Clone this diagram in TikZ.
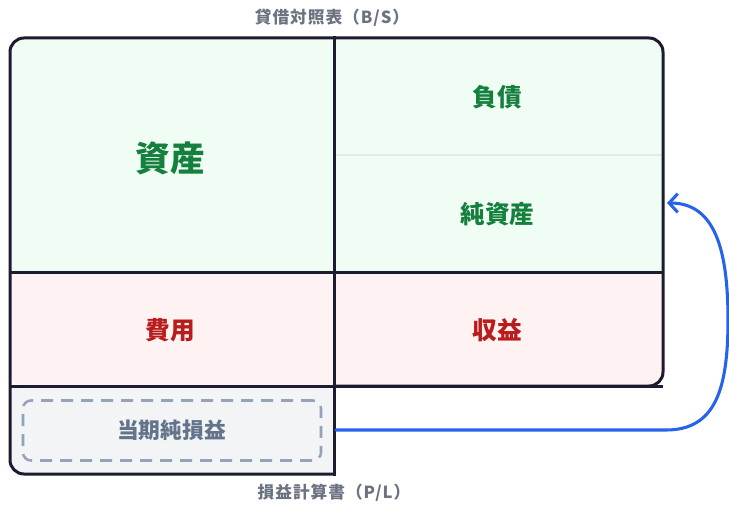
\documentclass[tikz,border=0pt]{standalone}
\usepackage{fontspec}
\setmainfont{Noto Sans CJK JP}
\newfontfamily\titlefont[LetterSpace=6]{Noto Sans CJK JP}
\usetikzlibrary{arrows.meta}
\definecolor{edge}{HTML}{1C1C2E}
\definecolor{gfill}{HTML}{F0FDF4}
\definecolor{gtext}{HTML}{15803D}
\definecolor{rfill}{HTML}{FEF2F2}
\definecolor{rtext}{HTML}{B91C1C}
\definecolor{pfill}{HTML}{F3F4F6}
\definecolor{dashc}{HTML}{94A3B8}
\definecolor{ptext}{HTML}{64748B}
\definecolor{ttext}{HTML}{6B7280}
\definecolor{sep}{HTML}{E2E8F0}
\definecolor{arrowc}{HTML}{2563EB}
\begin{document}
\begin{tikzpicture}[x=0.75pt,y=-0.75pt,
  biglabel/.style={font=\fontsize{26}{30}\selectfont\bfseries,text=gtext},
  glabel/.style={font=\fontsize{18.5}{22}\selectfont\bfseries,text=gtext},
  rlabel/.style={font=\fontsize{18.5}{22}\selectfont\bfseries,text=rtext},
  ttl/.style={font=\titlefont\fontsize{12.5}{15}\selectfont\bfseries,text=ttext},
  border/.style={draw=edge,line width=2.25pt},
  flow/.style={draw=arrowc,line width=2.3pt,line cap=round,-{Straight Barb[length=6.5pt,width=14pt,line width=2.3pt]}}]
\useasboundingbox (0,0) rectangle (729,506);
% fills
\begin{scope}
\clip[rounded corners=10.5pt] (10,38) rectangle (663,386);
\fill[gfill] (10,38) rectangle (663,273);
\fill[rfill] (10,273) rectangle (663,386);
\end{scope}
\begin{scope}
\clip[rounded corners=10.5pt] (10,360) rectangle (370,474);
\fill[pfill] (10,386) rectangle (334,474);
\end{scope}
% separator between liabilities and equity
\draw[sep,line width=1pt] (335,155) -- (662,155);
% dividers
\draw[border] (10,273) -- (663,273);
\draw[border] (10,386) -- (663,386);
% outer border
\draw[border,rounded corners=10.5pt] (334,386) -- (663,386) -- (663,38) -- (10,38) -- (10,474) -- (334,474);
\draw[border,line cap=rect] (334,38) -- (334,474);
% dashed net income box
\node[draw=dashc,line width=1.9pt,dash pattern=on 9pt off 6pt,rounded corners=6pt,minimum width=223.5pt,minimum height=45pt,inner sep=0pt,fill=pfill] (ni) at (172,430.5) {};
\node[font=\fontsize{16.3}{20}\selectfont\bfseries,text=ptext] (nitext) at (171.5,430) {当期純損益};
% labels
\node[biglabel] (asset) at (170.5,158) {資産};
\node[glabel] (liab) at (497.5,97) {負債};
\node[glabel] (eq) at (497.5,214) {純資産};
\node[rlabel] (exp) at (170.5,330) {費用};
\node[rlabel] (rev) at (497.5,330) {収益};
\node[ttl] (bs) at (332,18) {貸借対照表（B/S）};
\node[ttl] (pl) at (334,493) {損益計算書（P/L）};
% arrow
\coordinate (from) at (336,430);
\coordinate (to) at (667,203);
\draw[flow] (from) -- (666,430) .. controls (715,430) and (728,390) .. (728,320) .. controls (728,250) and (715,203) .. (to);
\end{tikzpicture}
\end{document}
